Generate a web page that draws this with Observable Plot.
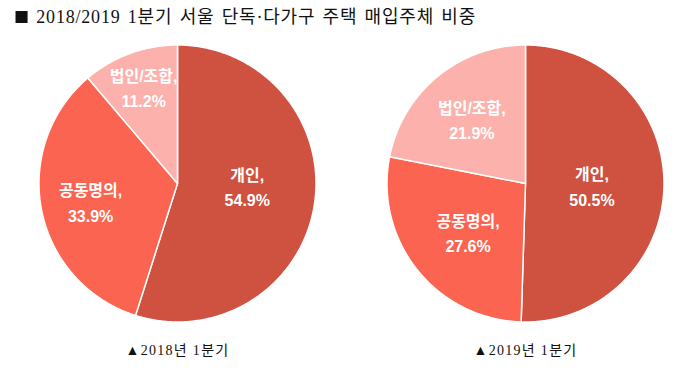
<!DOCTYPE html>
<html><head><meta charset="utf-8">
<script src="https://cdn.jsdelivr.net/npm/d3@7"></script>
<script src="https://cdn.jsdelivr.net/npm/@observablehq/plot@0.6"></script>
<style>
body{margin:0;background:#fff;}
#title{height:34px;line-height:33px;padding-left:14px;font-family:"Liberation Serif","Noto Sans CJK KR",serif;font-size:18px;letter-spacing:0.8px;word-spacing:2px;color:#111;white-space:nowrap;}
#title .sq{font-family:"Noto Sans CJK KR",sans-serif;font-size:15px;letter-spacing:0;}
</style></head>
<body>
<div id="title"><span class="sq">■</span> 2018/2019 1분기 서울 단독·다가구 주택 매입주체 비중</div>
<div id="chart"></div>
<script>
const categories = ["개인", "공동명의", "법인/조합"];
const share2018 = [54.9, 33.9, 11.2];
const share2019 = [50.5, 27.6, 21.9];
const periods = ["2018", "2019"];
const captions = ["▲2018년 1분기", "▲2019년 1분기"];
const colors = ["#CF5140", "#FB6450", "#FCB1AC"];

// layout
const W = 680, H = 351;
const R = 138.5;
const centers = [{cx: 177, cy: 149}, {cx: 525, cy: 149}];
const captionY = 316;
const labelRadius = [[0.51, 0.64, 0.71], [0.48, 0.53, 0.61]];
const labelDy = [[-9, 0, -5], [0, 2, 0]];

const series = [share2018, share2019];
const polys = [];
const labels = [];
const pie = d3.pie().sort(null).startAngle(0).endAngle(2 * Math.PI);
series.forEach((vals, p) => {
  const {cx, cy} = centers[p];
  pie(vals).forEach((a, i) => {
    const key = periods[p] + "-" + i;
    polys.push({key, cat: categories[i], x: cx, y: cy});
    const n = Math.max(2, Math.ceil((a.endAngle - a.startAngle) / 0.01));
    for (let k = 0; k <= n; k++) {
      const t = a.startAngle + (a.endAngle - a.startAngle) * k / n;
      polys.push({key, cat: categories[i], x: cx + R * Math.sin(t), y: cy - R * Math.cos(t)});
    }
    const m = (a.startAngle + a.endAngle) / 2;
    const lr = R * labelRadius[p][i];
    labels.push({x: cx + lr * Math.sin(m), y: cy - lr * Math.cos(m) + labelDy[p][i], text: categories[i] + ",\n" + vals[i].toFixed(1) + "%"});
  });
});
const caps = periods.map((d, p) => ({x: centers[p].cx, y: captionY, text: captions[p]}));

const chart = Plot.plot({
  width: W, height: H,
  margin: 0,
  x: {domain: [0, W], axis: null},
  y: {domain: [H, 0], axis: null},
  color: {domain: categories, range: colors},
  marks: [
    Plot.line(polys, {x: "x", y: "y", z: "key", fill: "cat", stroke: "white", strokeWidth: 1.5, curve: "linear-closed"}),
    Plot.text(labels, {x: "x", y: "y", text: "text", fill: "white", fontWeight: "bold", fontSize: 16, lineHeight: 1.6, fontFamily: "'Liberation Sans','Noto Sans CJK KR',sans-serif"}),
    Plot.text(caps, {x: "x", y: "y", text: "text", fill: "#111", fontSize: 14, fontFamily: "'Liberation Serif','Noto Sans CJK KR',serif"})
  ]
});
const textGroups = chart.querySelectorAll('g[aria-label="text"]');
if (textGroups.length > 1) textGroups[1].style.letterSpacing = "1.3px";
document.getElementById("chart").appendChild(chart);
</script>
</body></html>
